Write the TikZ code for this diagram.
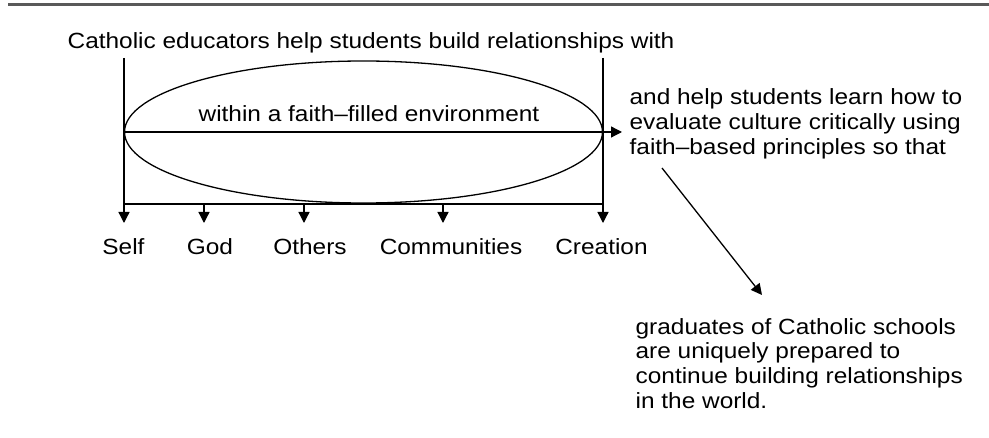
\documentclass[tikz,border=0pt]{standalone}
\usepackage{fontspec}
\setmainfont[FakeStretch=1.11]{Liberation Sans}
\usetikzlibrary{arrows.meta,shapes.geometric}

\tikzset{
  txt/.style={font=\fontsize{22}{24.7}\selectfont, inner sep=0pt},
  lbl/.style={txt, anchor=base},
  block/.style={txt, align=left, anchor=base west},
  arr/.style={-{Triangle[length=11pt,width=11pt]}},
}

\begin{document}
\begin{tikzpicture}[x=1pt,y=-1pt,line width=1.3pt]
\useasboundingbox (0,0) rectangle (989,438);

% rule at the top
\draw[black!65,line width=2.7pt] (8,4.7) -- (989,4.7);

\node[txt,anchor=base west] (intro) at (67,49) {Catholic educators help students build relationships with};

% ellipse and its arrow
\node[ellipse,draw,minimum width=478pt,minimum height=142pt,inner sep=0pt] (env) at (363.5,132) {};
\node[lbl] (within) at (369,122) {within a faith–filled environment};
\coordinate (envout) at (622,132);
\draw[arr] (env.west) -- (envout);

% frame with the arrows down
\draw[arr] (124,58) -- (124,223);
\draw[arr] (603,58) -- (603,223);
\draw (124,204) -- (603,204);

\foreach \x in {204, 304, 443} {
	\draw[arr] (\x,204) -- (\x,223);
}

\foreach \x/\name/\txt in {123.5/self/Self, 210/god/God, 310/others/Others, 451/comm/Communities, 601.5/creation/Creation} {
	\node[lbl] (\name) at (\x,255) {\txt};
}

% right side (base is the last line)
\node[block] (evaluate) at (629,154.4) {and help students learn how to\\evaluate culture critically using\\faith–based principles so that};

\node[block] (graduates) at (635,408.1) {graduates of Catholic schools\\are uniquely prepared to\\continue building relationships\\in the world.};

\coordinate (diagstart) at (662,168);
\coordinate (diagend) at (762,295);
\draw[arr] (diagstart) -- (diagend);
\end{tikzpicture}
\end{document}
